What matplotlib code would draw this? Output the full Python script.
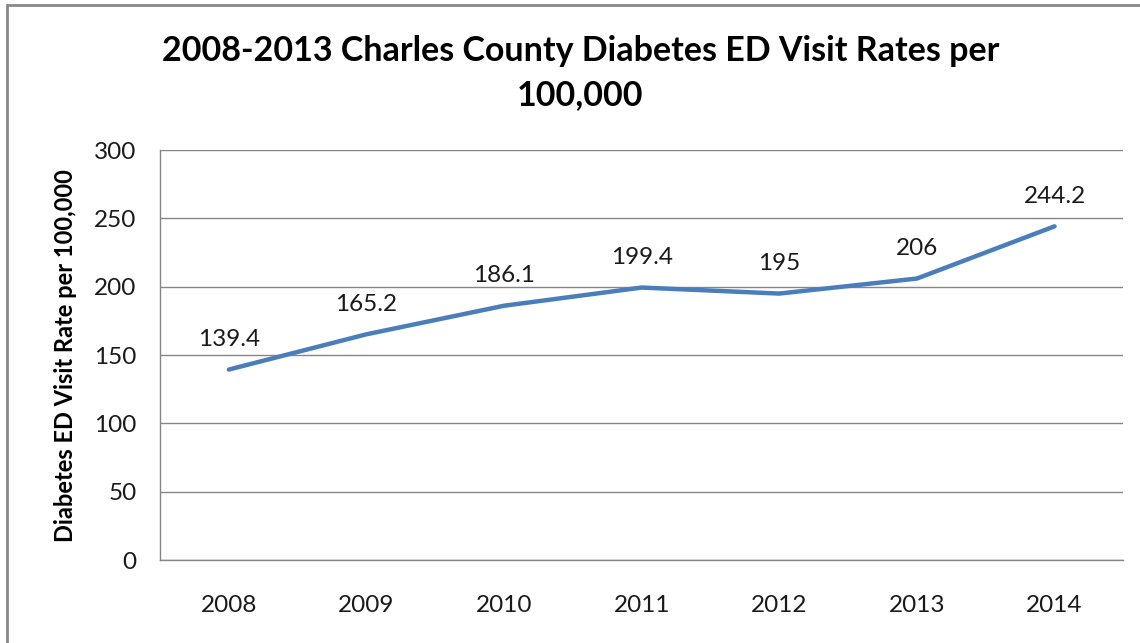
import matplotlib.pyplot as plt

years = ['2008', '2009', '2010', '2011', '2012', '2013', '2014']
rates = [139.4, 165.2, 186.1, 199.4, 195, 206, 244.2]
rate_labels = ['139.4', '165.2', '186.1', '199.4', '195', '206', '244.2']
yticks = [0, 50, 100, 150, 200, 250, 300]

plt.rcParams['font.family'] = ['Lato', 'DejaVu Sans']

fig = plt.figure(figsize=(11.4, 6.43), dpi=100)
ax = fig.add_axes([0.1404, 0.129, 0.845, 0.6376])

x = list(range(len(years)))
ax.plot(x, rates, color='#4A7EBB', linewidth=3.2, solid_capstyle='round', zorder=3)
for xi, v, lab in zip(x, rates, rate_labels):
    ax.annotate(lab, (xi, v), xytext=(0, 14), textcoords='offset points',
                ha='center', va='bottom', fontsize=17.5, color='#1a1a1a')

ax.set_xlim(-0.5, 6.5)
ax.set_ylim(0, 300)
ax.set_xticks(x)
ax.set_xticklabels(years)
ax.set_yticks(yticks)
ax.tick_params(length=0, labelsize=17.5, labelcolor='#1a1a1a')
ax.tick_params(axis='x', pad=25)
ax.tick_params(axis='y', pad=17)
ax.grid(axis='y', color='#868686', linewidth=1)
ax.set_axisbelow(True)
for s in ['top', 'right']:
    ax.spines[s].set_visible(False)
for s in ['left', 'bottom']:
    ax.spines[s].set_color('#868686')
    ax.spines[s].set_linewidth(1)

ax.set_ylabel('Diabetes ED Visit Rate per 100,000', fontsize=17, fontweight='bold', labelpad=12)

fig.text(0.509, 0.886, '2008-2013 Charles County Diabetes ED Visit Rates per\n100,000',
         ha='center', va='center', fontsize=24.5, fontweight='bold', linespacing=1.48)

# outer chart border
fig.add_artist(plt.Rectangle((7 / 1140, -0.01), 1.02, 1 - 5 / 643 + 0.01, transform=fig.transFigure,
                             fill=False, edgecolor='#888888', linewidth=2))

fig.savefig('out.png', dpi=100)
